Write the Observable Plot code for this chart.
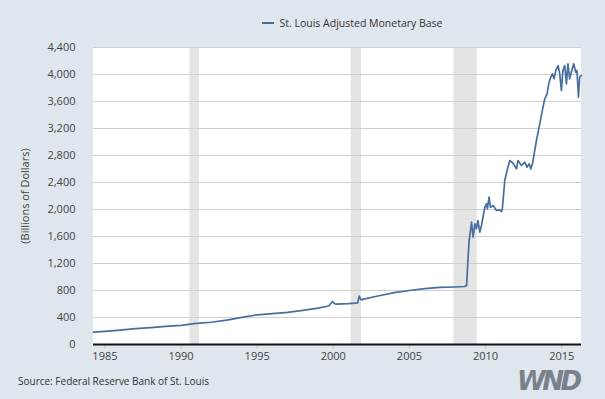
<!DOCTYPE html>
<html>
<head>
<meta charset="utf-8">
<script src="https://cdn.jsdelivr.net/npm/d3@7"></script>
<script src="https://cdn.jsdelivr.net/npm/@observablehq/plot@0.6"></script>
<style>
  html, body { margin: 0; padding: 0; background: #dfe6ee; }
  #wrap { position: relative; width: 605px; height: 399px; background: #dfe6ee; font-family: "Open Sans", sans-serif; overflow: hidden; }
  #legend { position: absolute; left: 0; top: 16px; width: 605px; text-align: center; font-size: 10.5px; color: #333; padding-left: 100px; box-sizing: border-box; }
  #legend .sw { display: inline-block; width: 12px; height: 2px; background: #466e9f; vertical-align: middle; margin-right: 5px; position: relative; top: -1px; }
  #chart { position: absolute; left: 0; top: 40px; }
  #source { position: absolute; left: 18px; top: 374px; font-size: 10px; color: #333; }
  #logo { position: absolute; left: 517px; top: 366px; font-size: 26px; font-weight: 900; font-style: italic; color: #7a818a; letter-spacing: -3.5px; font-family: "DejaVu Sans", sans-serif; }
</style>
</head>
<body>
<div id="wrap">
  <div id="legend"><span class="sw"></span>St. Louis Adjusted Monetary Base</div>
  <div id="chart"></div>
  <div id="source">Source: Federal Reserve Bank of St. Louis</div>
  <div id="logo">WND</div>
</div>
<script>
// Decimal years and values (billions of dollars)
const years = [
  1984.25, 1985.0, 1986.0, 1987.0, 1988.0, 1989.0, 1990.0, 1991.0, 1992.0, 1993.0,
  1994.0, 1995.0, 1996.0, 1997.0, 1998.0, 1999.0, 1999.7, 1999.95, 2000.05, 2000.15,
  2001.0, 2001.6, 2001.7, 2001.82, 2002.0, 2003.0, 2004.0, 2005.0, 2006.0, 2007.0,
  2008.0, 2008.6, 2008.75, 2008.83, 2008.92,
  2009.08, 2009.18, 2009.3, 2009.4, 2009.5, 2009.62, 2009.73, 2009.95, 2010.06, 2010.12,
  2010.23, 2010.32, 2010.5, 2010.72, 2010.93, 2011.05, 2011.1, 2011.26, 2011.41, 2011.59,
  2011.8, 2012.03, 2012.13, 2012.36, 2012.57, 2012.72, 2012.86, 2012.97, 2013.08, 2013.23,
  2013.34, 2013.56, 2013.77, 2013.89, 2014.04, 2014.17, 2014.28, 2014.39, 2014.5, 2014.61,
  2014.76, 2014.87, 2014.98, 2015.08, 2015.2, 2015.31, 2015.41, 2015.52, 2015.63, 2015.79,
  2015.92, 2016.0, 2016.1, 2016.18, 2016.29
];
const base = [
  182, 195, 213, 235, 250, 268, 282, 312, 330, 360,
  402, 440, 458, 475, 505, 540, 570, 637, 612, 598,
  605, 618, 716, 662, 672, 722, 768, 800, 828, 845,
  852, 859, 870, 1200, 1540,
  1812, 1590, 1788, 1714, 1837, 1664, 1763, 2034, 2084, 2010,
  2182, 2034, 2059, 1985, 1995, 1970, 2010, 2430, 2578, 2726,
  2686, 2602, 2726, 2652, 2701, 2627, 2677, 2602, 2677, 2874,
  3022, 3269, 3516, 3640, 3714, 3886, 3960, 4010, 3936, 4059,
  4133, 4010, 3763, 4059, 4133, 3862, 4158, 3936, 4034, 4158,
  4034, 4059, 3664, 3960, 3985
];
// Recessions (start, end) in decimal years
const recStart = [1990.58, 2001.17, 2007.92];
const recEnd = [1991.2, 2001.85, 2009.45];
const yTicks = [0, 400, 800, 1200, 1600, 2000, 2400, 2800, 3200, 3600, 4000, 4400];
const xTicks = [1985, 1990, 1995, 2000, 2005, 2010, 2015];

const data = years.map((y, i) => ({year: y, value: base[i]}));
const recessions = recStart.map((s, i) => ({x1: s, x2: recEnd[i]}));

const chart = Plot.plot({
  width: 605,
  height: 330,
  marginLeft: 93,
  marginRight: 24,
  marginTop: 7,
  marginBottom: 26,
  style: {background: "transparent", fontFamily: "Open Sans, sans-serif", fontSize: "11px", color: "#444"},
  x: {domain: [1984.25, 2016.3], ticks: xTicks, tickFormat: d => String(d)},
  y: {domain: [0, 4400], ticks: yTicks, label: "(Billions of Dollars)"},
  marks: [
    Plot.rect([0], {x1: 1984.25, x2: 2016.3, y1: 0, y2: 4400, fill: "white"}),
    Plot.rectX(recessions, {x1: "x1", x2: "x2", y1: 0, y2: 4400, fill: "#e4e4e4"}),
    Plot.gridY(yTicks.filter(d => d > 0), {stroke: "#cfcfcf", strokeOpacity: 1}),
    Plot.axisY({ticks: yTicks, tickSize: 0, tickPadding: 18, tickFormat: d3.format(","), label: "(Billions of Dollars)", labelAnchor: "center", labelArrow: "none", labelOffset: 72, fill: "#444"}),
    Plot.axisX({ticks: xTicks, tickSize: 5, tickPadding: 3, stroke: "#c8c8c8", fill: "#444", label: null, tickFormat: d => String(d)}),
    Plot.line(data, {x: "year", y: "value", stroke: "#466e9f", strokeWidth: 1.7}),
    Plot.ruleY([0], {stroke: "#111", strokeWidth: 2})
  ]
});
document.getElementById("chart").appendChild(chart);
</script>
</body>
</html>
